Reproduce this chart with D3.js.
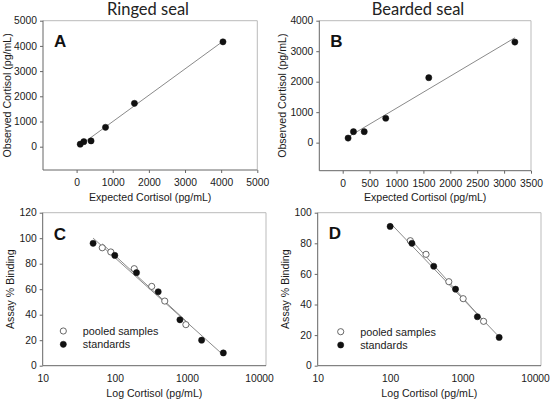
<!DOCTYPE html>
<html><head><meta charset="utf-8">
<script src="https://cdn.jsdelivr.net/npm/d3@7"></script>
<style>body{margin:0;background:#fff} svg{display:block}</style>
</head><body><svg id="c" width="550" height="402"></svg>
<script>
// ---------- DATA ----------
const ringedExpected = [100, 200, 400, 800, 1600, 4050];
const ringedObserved = [100, 200, 230, 770, 1720, 4160];
const beardedExpected = [100, 200, 400, 800, 1600, 3200];
const beardedObserved = [150, 360, 360, 800, 2130, 3300];

const ringedStdX = [50, 100, 200, 400, 800, 1600, 3200];
const ringedStdY = [96, 86.5, 73, 58, 36, 20, 10];
const ringedPoolX = [67, 88, 186, 325, 493, 968];
const ringedPoolY = [92.5, 89.2, 76.1, 62.2, 50.7, 32.2];

const beardedStdX = [100, 200, 400, 800, 1600, 3200];
const beardedStdY = [91, 80, 65, 50, 32, 18.5];
const beardedPoolX = [190, 313, 646, 1019, 1950];
const beardedPoolY = [81.7, 72.8, 54.9, 43.8, 29];

const ticksAx = [0, 1000, 2000, 3000, 4000, 5000];
const ticksAy = [0, 1000, 2000, 3000, 4000, 5000];
const ticksBx = [0, 500, 1000, 1500, 2000, 2500, 3000, 3500];
const ticksBy = [0, 1000, 2000, 3000, 4000];
const logTicks = [10, 100, 1000, 10000];
const ticksCy = [0, 20, 40, 60, 80, 100, 120];
const ticksDy = [0, 20, 40, 60, 80, 100];

const titles = ["Ringed seal", "Bearded seal"];
const legendLabels = ["pooled samples", "standards"];

// ---------- HELPERS ----------
const svg = d3.select("#c");
const TXT = "#1a1a1a", AXIS = "#666", FRAME = "#bbb", FIT = "#8a8a8a", DOT = "#111";
const SANS = "'Liberation Sans', Arial, sans-serif";

function fit(xs, ys, tx) {
  const X = xs.map(tx), n = X.length;
  const mx = d3.mean(X), my = d3.mean(ys);
  let sxy = 0, sxx = 0;
  for (let i = 0; i < n; i++) { sxy += (X[i]-mx)*(ys[i]-my); sxx += (X[i]-mx)**2; }
  const b = sxy/sxx, a = my - b*mx;
  const x0 = d3.min(xs), x1 = d3.max(xs);
  return [[x0, a + b*tx(x0)], [x1, a + b*tx(x1)]];
}

function panel(o) {
  const g = svg.append("g");
  const x = o.log ? d3.scaleLog().domain(o.xDom).range([o.L, o.Rx])
                  : d3.scaleLinear().domain(o.xDom).range([o.L, o.R]);
  const y = d3.scaleLinear().domain(o.yDom).range([o.B, o.T]);
  g.append("path").attr("d", `M${o.L},${o.T}H${o.R}V${o.B}`)
    .attr("fill", "none").attr("stroke", FRAME).attr("stroke-width", 1);
  const ax = d3.axisBottom(x).tickValues(o.xTicks).tickSize(o.log ? 0 : 3).tickPadding(o.log ? 9 : 6)
     .tickFormat(d3.format("d"));
  const ay = d3.axisLeft(y).tickValues(o.yTicks).tickSize(3).tickPadding(3).tickFormat(d3.format("d"));
  const gx = g.append("g").attr("transform", `translate(0,${o.B})`).call(ax);
  const gy = g.append("g").attr("transform", `translate(${o.L},0)`).call(ay);
  [gx, gy].forEach(a => {
    a.select(".domain").remove();
    a.selectAll("line").attr("stroke", AXIS);
    a.selectAll("text").attr("fill", TXT).style("font-family", SANS).style("font-size", "10.3px");
  });
  g.append("line").attr("x1", o.L).attr("x2", o.R).attr("y1", o.B).attr("y2", o.B).attr("stroke", AXIS);
  g.append("line").attr("x1", o.L).attr("x2", o.L).attr("y1", o.T).attr("y2", o.B).attr("stroke", AXIS);

  const tx = o.log ? Math.log10 : (v => v);
  o.series.forEach(s => {
    const seg = fit(s.x, s.y, tx);
    g.append("line").attr("x1", x(seg[0][0])).attr("y1", y(seg[0][1]))
      .attr("x2", x(seg[1][0])).attr("y2", y(seg[1][1]))
      .attr("stroke", FIT).attr("stroke-width", 1);
  });
  o.series.forEach(s => {
    g.append("g").selectAll("circle").data(d3.zip(s.x, s.y)).join("circle")
      .attr("cx", d => x(d[0])).attr("cy", d => y(d[1])).attr("r", 3.1)
      .attr("fill", s.open ? "#fff" : DOT).attr("stroke", s.open ? "#444" : DOT)
      .attr("stroke-width", s.open ? 0.8 : 0.5);
  });
  g.append("text").attr("x", o.L + 11).attr("y", o.T + o.letterDy).text(o.letter)
    .attr("fill", "#111").style("font-family", SANS).style("font-weight", "bold").style("font-size", "17px");
  g.append("text").attr("x", (o.L + o.R)/2).attr("y", o.xTitleY).attr("text-anchor", "middle")
    .text(o.xTitle).attr("fill", TXT).style("font-family", SANS).style("font-size", "10.6px");
  g.append("text").attr("transform", `translate(${o.yTitleX},${(o.T + o.B)/2}) rotate(-90)`)
    .attr("text-anchor", "middle").attr("dy", "0.35em")
    .text(o.yTitle).attr("fill", TXT).style("font-family", SANS).style("font-size", "10.6px");
  if (o.legend) {
    const lg = g.append("g");
    [true, false].forEach((open, i) => {
      const cy = o.legend[1] + i*13.3;
      lg.append("circle").attr("cx", o.legend[0]).attr("cy", cy).attr("r", 3.1)
        .attr("fill", open ? "#fff" : DOT).attr("stroke", open ? "#444" : DOT).attr("stroke-width", open ? 0.8 : 0.5);
      lg.append("text").attr("x", o.legend[0] + 19.5).attr("y", cy).attr("dy", "0.36em")
        .text(legendLabels[i]).attr("fill", TXT).style("font-family", SANS).style("font-size", "10.8px");
    });
  }
}

[[148, titles[0]], [418, titles[1]]].forEach(([cx, t]) => {
  svg.append("text").attr("x", cx).attr("y", 15).attr("text-anchor", "middle").text(t)
    .attr("fill", "#222").style("font-family", "Lato, 'Open Sans', sans-serif").style("font-size", "16.5px");
});

panel({letter: "A", L: 43, T: 20.7, R: 257.3, B: 170, xDom: [-930, 5000], yDom: [-925, 5000],
  xTicks: ticksAx, yTicks: ticksAy, letterDy: 26,
  xTitle: "Expected Cortisol (pg/mL)", yTitle: "Observed Cortisol (pg/mL)", xTitleY: 200.5, yTitleX: 7.5,
  series: [{x: ringedExpected, y: ringedObserved}]});
panel({letter: "B", L: 319.3, T: 20.7, R: 531, B: 170.7, xDom: [-435, 3500], yDom: [-920, 4000],
  xTicks: ticksBx, yTicks: ticksBy, letterDy: 26,
  xTitle: "Expected Cortisol (pg/mL)", yTitle: "Observed Cortisol (pg/mL)", xTitleY: 200.5, yTitleX: 282.3,
  series: [{x: beardedExpected, y: beardedObserved}]});
panel({letter: "C", log: true, L: 42.7, T: 212.7, R: 266, Rx: 259, B: 365.7, xDom: [10, 10000], yDom: [0, 120],
  xTicks: logTicks, yTicks: ticksCy, letterDy: 27.5,
  xTitle: "Log Cortisol (pg/mL)", yTitle: "Assay % Binding", xTitleY: 397, yTitleX: 10,
  legend: [63.3, 331],
  series: [{x: ringedPoolX, y: ringedPoolY, open: true}, {x: ringedStdX, y: ringedStdY}]});
panel({letter: "D", log: true, L: 317.7, T: 212.7, R: 541, Rx: 535, B: 365.7, xDom: [10, 10000], yDom: [0, 100],
  xTicks: logTicks, yTicks: ticksDy, letterDy: 26.5,
  xTitle: "Log Cortisol (pg/mL)", yTitle: "Assay % Binding", xTitleY: 397, yTitleX: 285,
  legend: [340.7, 331.7],
  series: [{x: beardedPoolX, y: beardedPoolY, open: true}, {x: beardedStdX, y: beardedStdY}]});
</script></body></html>
